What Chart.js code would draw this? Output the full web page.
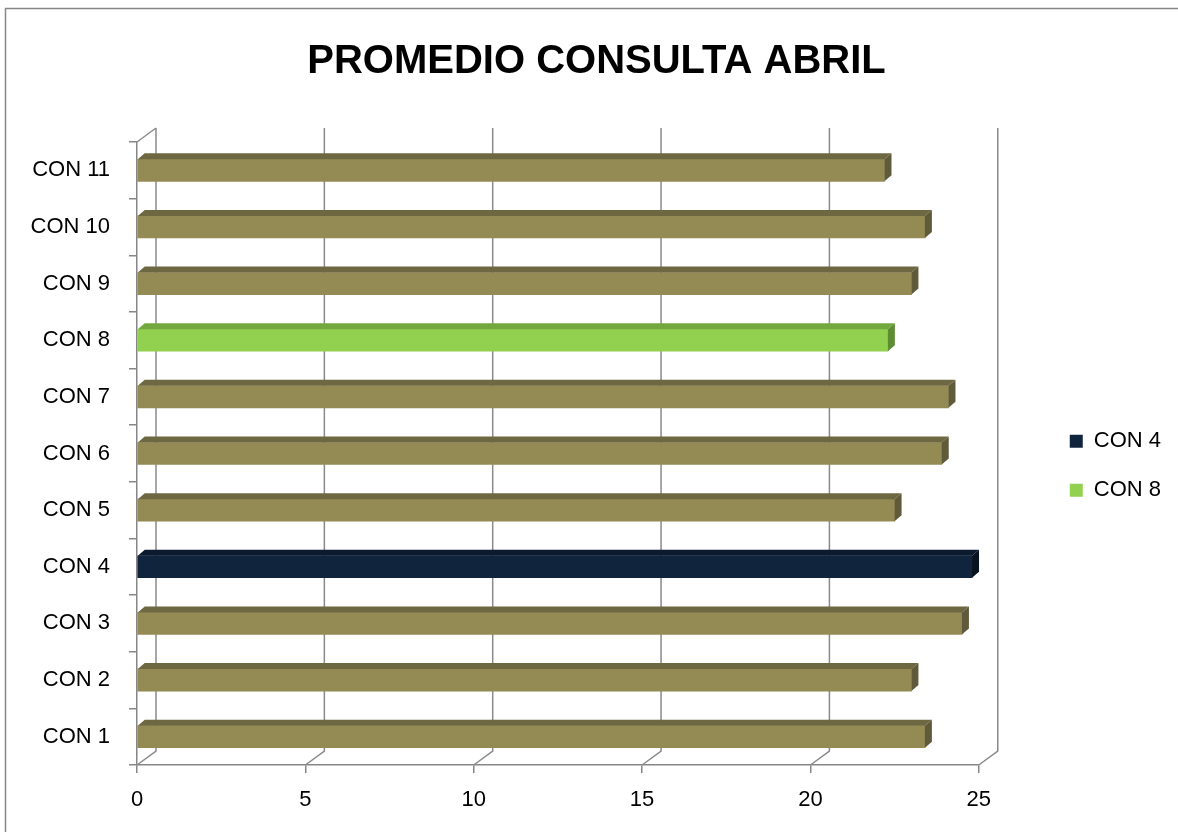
<!DOCTYPE html>
<html>
<head>
<meta charset="utf-8">
<script src="https://cdn.jsdelivr.net/npm/chart.js@4"></script>
<style>
  html, body { margin: 0; padding: 0; background: #fff; }
  #wrap { width: 1178px; height: 832px; }
</style>
</head>
<body>
<div id="wrap"><canvas id="promedioChart" width="1178" height="832"></canvas></div>
<script>
const categories = ['CON 1', 'CON 2', 'CON 3', 'CON 4', 'CON 5', 'CON 6', 'CON 7', 'CON 8', 'CON 9', 'CON 10', 'CON 11'];
const promedio = [23.4, 23.0, 24.5, 24.8, 22.5, 23.9, 24.1, 22.3, 23.0, 23.4, 22.2];
const xTicks = [0, 5, 10, 15, 20, 25];
const legendLabels = ['CON 4', 'CON 8'];

const FONT = "'Liberation Sans', Arial, sans-serif";
const front = { normal: '#948A54', 'CON 4': '#10243E', 'CON 8': '#92D050' };
const topFace = { normal: '#6E6842', 'CON 4': '#0B1A2E', 'CON 8': '#72A83E' };
const sideFace = { normal: '#5F5A39', 'CON 4': '#08131F', 'CON 8': '#5E8C32' };
const pick = (tbl, c) => tbl[c] || tbl.normal;

// 3D back wall + bar faces
const depth = { dx: 19, dy: 14, bx: 7, by: 6 };
const look3d = {
    id: 'look3d',
    beforeDraw(chart) {
        const ctx = chart.ctx;
        ctx.save();
        ctx.strokeStyle = '#868686';
        ctx.lineWidth = 1.5;
        ctx.strokeRect(5.5, 8.5, 3000, 3000);
        ctx.restore();
    },
    beforeDatasetsDraw(chart) {
        const { ctx, chartArea: a, scales: { x } } = chart;
        ctx.save();
        ctx.strokeStyle = '#8a8a8a';
        ctx.lineWidth = 1.5;
        xTicks.forEach(v => {
            const px = x.getPixelForValue(v);
            ctx.beginPath();
            ctx.moveTo(px, a.bottom);
            ctx.lineTo(px + depth.dx, a.bottom - depth.dy);
            ctx.lineTo(px + depth.dx, a.top - depth.dy);
            ctx.stroke();
        });
        ctx.beginPath();
        ctx.moveTo(a.left, a.top);
        ctx.lineTo(a.left + depth.dx, a.top - depth.dy);
        ctx.stroke();
        ctx.restore();
    },
    afterDatasetsDraw(chart) {
        const ctx = chart.ctx;
        const meta = chart.getDatasetMeta(0);
        ctx.save();
        meta.data.forEach((bar, i) => {
            const { x, y, base, height } = bar.getProps(['x', 'y', 'base', 'height'], true);
            const t = y - height / 2, b = y + height / 2;
            const c = categories[i];
            ctx.fillStyle = pick(topFace, c);
            ctx.beginPath();
            ctx.moveTo(base, t);
            ctx.lineTo(base + depth.bx, t - depth.by);
            ctx.lineTo(x + depth.bx, t - depth.by);
            ctx.lineTo(x, t);
            ctx.closePath();
            ctx.fill();
            ctx.fillStyle = pick(sideFace, c);
            ctx.beginPath();
            ctx.moveTo(x, t);
            ctx.lineTo(x + depth.bx, t - depth.by);
            ctx.lineTo(x + depth.bx, b - depth.by);
            ctx.lineTo(x, b);
            ctx.closePath();
            ctx.fill();
        });
        ctx.restore();
    }
};

const ctx = document.getElementById('promedioChart').getContext('2d');

new Chart(ctx, {
    type: 'bar',
    data: {
        labels: categories,
        datasets: [{
            label: 'Promedio',
            data: promedio,
            backgroundColor: categories.map(c => pick(front, c)),
            borderWidth: 0,
            barThickness: 22
        }]
    },
    plugins: [look3d],
    options: {
        indexAxis: 'y',
        responsive: false,
        animation: false,
        layout: { padding: { left: 22, right: 7, top: 0, bottom: 0 } },
        plugins: {
            title: {
                display: true,
                text: 'PROMEDIO CONSULTA ABRIL',
                color: '#000',
                font: { family: FONT, size: 40, weight: 'bold' },
                padding: { top: 38, bottom: 56 }
            },
            legend: {
                display: true,
                position: 'right',
                fullSize: false,
                title: { display: true, text: '', padding: 5 },
                labels: {
                    color: '#000',
                    font: { family: FONT, size: 22 },
                    boxWidth: 13,
                    boxHeight: 13,
                    padding: 27,
                    generateLabels: () => legendLabels.map(l => ({
                        text: l,
                        fillStyle: pick(front, l),
                        strokeStyle: pick(front, l),
                        fontColor: '#000',
                        lineWidth: 0,
                        hidden: false
                    }))
                }
            },
            tooltip: { enabled: false }
        },
        scales: {
            x: {
                min: 0,
                max: 25,
                afterBuildTicks: s => { s.ticks = xTicks.map(v => ({ value: v })); },
                afterFit: s => { s.height = 67; },
                grid: { drawOnChartArea: false, drawTicks: true, tickLength: 8, color: '#868686', lineWidth: 1.5 },
                border: { display: true, color: '#868686', width: 1.5 },
                ticks: { color: '#000', font: { family: FONT, size: 22 }, padding: 14 }
            },
            y: {
                reverse: true,
                afterFit: s => { s.width = 115; },
                grid: { offset: true, drawOnChartArea: false, drawTicks: true, tickLength: 8, color: '#868686', lineWidth: 1.5 },
                border: { display: true, color: '#868686', width: 1.5 },
                ticks: { color: '#000', font: { family: FONT, size: 22 }, padding: 19 }
            },
            gap: {
                type: 'linear',
                axis: 'y',
                position: 'right',
                display: true,
                afterFit: s => { s.width = 64; },
                grid: { display: false },
                border: { display: false },
                ticks: { display: false }
            }
        }
    }
});
</script>
</body>
</html>
